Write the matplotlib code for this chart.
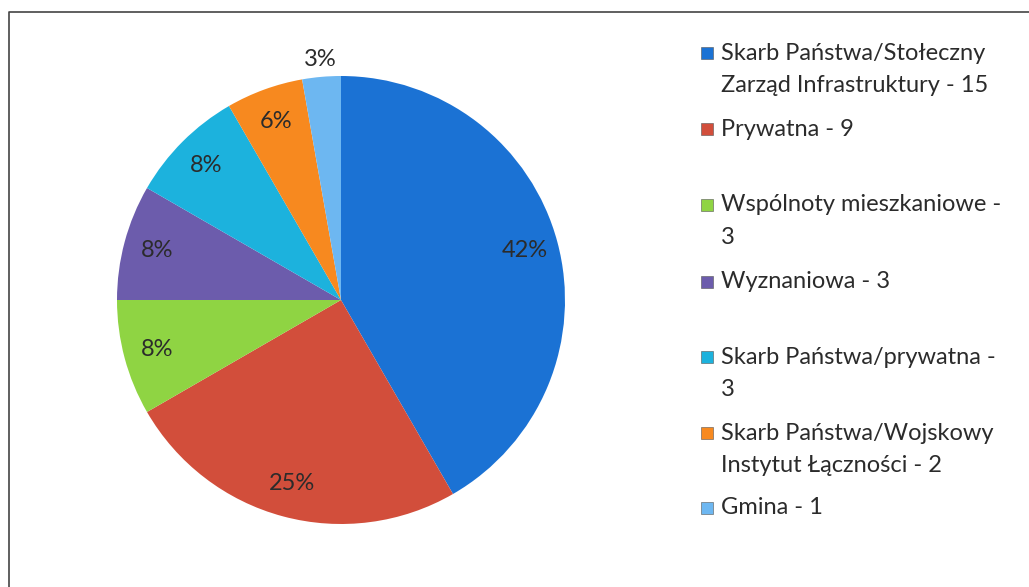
import numpy as np
import matplotlib
matplotlib.use('Agg')
import matplotlib.pyplot as plt
from matplotlib.patches import Rectangle
from matplotlib.lines import Line2D

plt.rcParams['font.family'] = ['Lato', 'DejaVu Sans']

# Data
labels = ['Skarb Państwa/Stołeczny\nZarząd Infrastruktury - 15',
          'Prywatna - 9',
          'Wspólnoty mieszkaniowe -\n3',
          'Wyznaniowa - 3',
          'Skarb Państwa/prywatna -\n3',
          'Skarb Państwa/Wojskowy\nInstytut Łączności - 2',
          'Gmina - 1']
values = [15, 9, 3, 3, 3, 2, 1]
colors = ['#1b72d4', '#d24e3b', '#8fd443', '#6c5cac', '#1cb2dd', '#f7891f', '#6db7f1']

W, H = 1029, 587
fig = plt.figure(figsize=(W / 100, H / 100), dpi=100)

# pie axes: centre (341, 300), radius 224 px
cx, cy, r = 341, 300, 224
ax = fig.add_axes([(cx - r) / W, (H - cy - r) / H, 2 * r / W, 2 * r / H])
wedges, texts, autotexts = ax.pie(values, colors=colors, startangle=90, counterclock=False,
                                  autopct=lambda p: '%.0f%%' % p, pctdistance=0.85,
                                  radius=1, wedgeprops=dict(linewidth=0),
                                  textprops=dict(fontsize=17, color='#2b2b2b'))
ax.set_xlim(-1, 1)
ax.set_ylim(-1, 1)
ax.set_aspect('equal')
ax.axis('off')

# smallest slice label sits outside
w = wedges[-1]
ang = np.deg2rad((w.theta1 + w.theta2) / 2)
autotexts[-1].set_position((1.08 * np.cos(ang), 1.08 * np.sin(ang)))

# legend, drawn by hand to match the irregular spacing
row_y = [53, 129, 205, 282, 357, 433, 508]
line_gap = 33
for lab, col, y in zip(labels, colors, row_y):
    fig.patches.append(Rectangle((701 / W, 1 - (y + 6) / H), 12 / W, 12 / H,
                                 transform=fig.transFigure, facecolor=col,
                                 edgecolor='#555555', linewidth=0.4))
    for i, line in enumerate(lab.split('\n')):
        fig.text(721 / W, 1 - (y + i * line_gap) / H, line, fontsize=17,
                 color='#2b2b2b', va='center', ha='left')

# outer frame (top and left visible)
fig.lines.append(Line2D([9 / W, 9 / W, 1.0], [0.0, 1 - 12 / H, 1 - 12 / H],
                        transform=fig.transFigure, color='#444444', linewidth=1.2))

fig.savefig('out.png', dpi=100)
